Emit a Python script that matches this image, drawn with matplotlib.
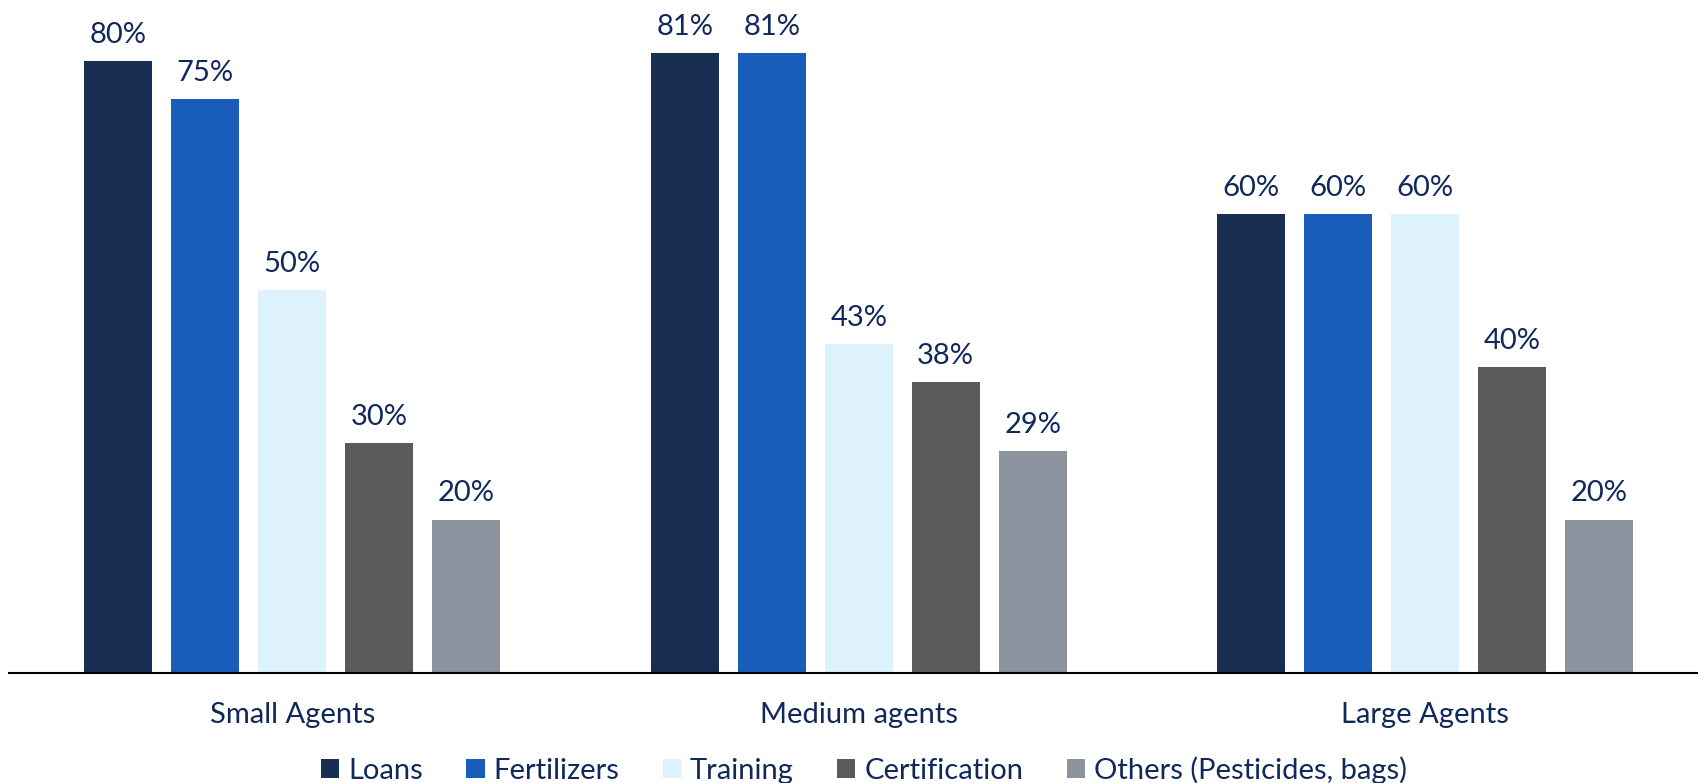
import matplotlib
matplotlib.use("Agg")
import matplotlib.pyplot as plt
import numpy as np

categories = ["Small Agents", "Medium agents", "Large Agents"]
series = ["Loans", "Fertilizers", "Training", "Certification", "Others (Pesticides, bags)"]
loans = [80, 81, 60]
fertilizers = [75, 81, 60]
training = [50, 43, 60]
certification = [30, 38, 40]
others = [20, 29, 20]
values = [loans, fertilizers, training, certification, others]
colors = ["#182F52", "#195CBA", "#DEF2FD", "#5A5A5A", "#8C929E"]
text_color = "#10285A"

plt.rcParams['font.family'] = ['Lato', 'DejaVu Sans']

fig = plt.figure(figsize=(16.98, 7.83), dpi=100)
ax = fig.add_axes([9.2/1698, 1 - 672.5/783, 1699/1698, 672.5/783])

x = np.arange(len(categories))
width = 0.12
pitch = 0.1536
for i, (name, vals, c) in enumerate(zip(series, values, colors)):
    pos = x + (i - 2) * pitch
    bars = ax.bar(pos, vals, width=width, color=c, label=name)
    for b, v in zip(bars, vals):
        ax.annotate(f"{v}%", (b.get_x() + b.get_width()/2, v),
                    xytext=(0, 9.5), textcoords="offset points",
                    ha="center", va="bottom", fontsize=21, color=text_color)

ax.set_xlim(-0.5, 2.5)
ax.set_ylim(0, 88)
for s in ["top", "left", "right"]:
    ax.spines[s].set_visible(False)
ax.spines["bottom"].set_linewidth(1.5)
ax.spines["bottom"].set_color("black")
ax.set_yticks([])
ax.set_xticks(x)
ax.set_xticklabels(categories, fontsize=21, color=text_color)
ax.tick_params(axis="x", length=0, pad=21.5)

fig.legend(loc="center", bbox_to_anchor=(864/1698, 1 - 770/783), ncol=5,
           frameon=False, fontsize=21, handlelength=0.62, handleheight=0.62,
           handletextpad=0.3, columnspacing=1.5, labelcolor=text_color,
           borderaxespad=0, borderpad=0)

fig.savefig("out.png", dpi=100)
